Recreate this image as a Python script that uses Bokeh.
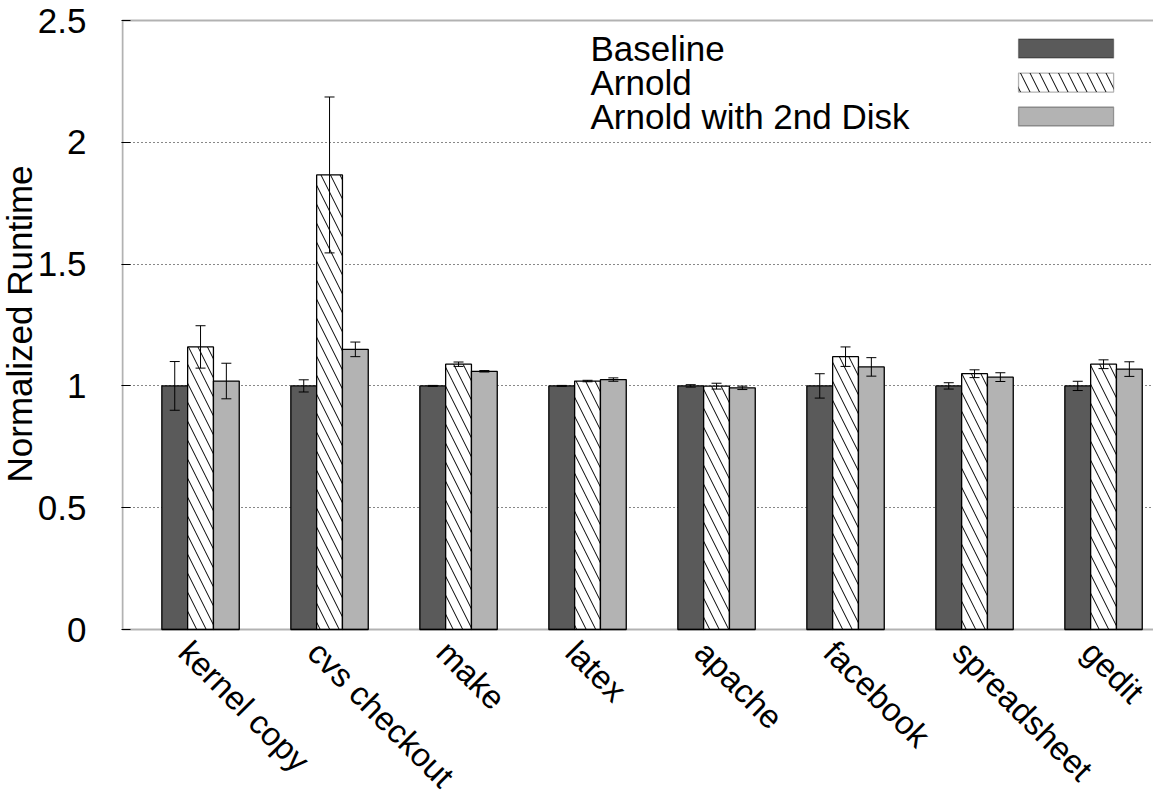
import numpy as np
from bokeh.plotting import figure
from bokeh.models import (Range1d, FixedTicker, Whisker, TeeHead, ColumnDataSource,
                          Label, BoxAnnotation, Title)
from bokeh.embed import file_html
from bokeh.resources import INLINE

# ---------------- data ----------------
categories = ["kernel copy", "cvs checkout", "make", "latex", "apache",
              "facebook", "spreadsheet", "gedit"]
series_names = ["Baseline", "Arnold", "Arnold with 2nd Disk"]
baseline = [1.0, 1.0, 1.0, 1.0, 1.0, 1.0, 1.0, 1.0]
baseline_err = [0.10, 0.025, 0.002, 0.002, 0.005, 0.05, 0.013, 0.019]
arnold = [1.16, 1.866, 1.089, 1.02, 0.999, 1.12, 1.05, 1.089]
arnold_err = [0.087, 0.32, 0.009, 0.003, 0.012, 0.04, 0.016, 0.018]
disk = [1.02, 1.15, 1.06, 1.026, 0.992, 1.078, 1.036, 1.069]
disk_err = [0.073, 0.03, 0.003, 0.007, 0.007, 0.038, 0.018, 0.03]
y_ticks = [0, 0.5, 1, 1.5, 2, 2.5]
y_tick_labels = ["0", "0.5", "1", "1.5", "2", "2.5"]
y_title = "Normalized Runtime"

FONT = "Liberation Sans"
FS = "35px"
FS_X = "33px"

W, H = 1153, 797
PX_PER_X = 129.0
PX_PER_Y = 243.6
X0 = -0.605                       # left edge of the plotting box
X1 = X0 + (W - 122) / PX_PER_X    # right edge of the canvas
Y0, Y1 = 0.0, 2.5
# the frame reaches down to the canvas bottom so the rotated category labels
# (drawn under the y=0 line) are not clipped
y_lo = Y0 - (H - 629) / PX_PER_Y
y_hi = Y1 + 2 / PX_PER_Y
x_lo = X0 - 1 / PX_PER_X

p = figure(width=W, height=H, output_backend="svg", toolbar_location=None,
           x_range=Range1d(x_lo, X1), y_range=Range1d(y_lo, y_hi),
           min_border_left=121, min_border_right=0, min_border_top=18,
           min_border_bottom=0)
p.outline_line_color = None
p.background_fill_color = "white"
p.border_fill_color = "white"

idx = np.arange(len(categories))
bar_w = 0.2
offsets = [-bar_w, 0.0, bar_w]
styles = [
    dict(fill_color="#5a5a5a"),
    dict(fill_color="white", hatch_pattern="\\", hatch_scale=19, hatch_weight=1,
         hatch_color="black"),
    dict(fill_color="#b3b3b3"),
]
vals = [baseline, arnold, disk]
errs = [baseline_err, arnold_err, disk_err]

for k in range(3):
    xs = idx + offsets[k]
    src = ColumnDataSource(dict(x=xs, top=vals[k]))
    p.vbar(x="x", top="top", width=bar_w, bottom=0, source=src,
           line_color="black", line_width=1.3, **styles[k])
for k in range(3):
    xs = idx + offsets[k]
    v = np.array(vals[k]); e = np.array(errs[k])
    esrc = ColumnDataSource(dict(x=xs, lower=v - e, upper=v + e))
    w = Whisker(base="x", lower="lower", upper="upper", source=esrc,
                line_color="black", line_width=1,
                upper_head=TeeHead(size=10, line_color="black", line_width=1),
                lower_head=TeeHead(size=10, line_color="black", line_width=1),
                level="overlay")
    p.add_layout(w)

# plotting box border (0..2.5); right side lies just past the canvas edge
p.add_layout(BoxAnnotation(left=X0, right=X1 + 0.05, bottom=Y0, top=Y1,
                           fill_alpha=0, line_color="black", line_width=2,
                           level="overlay"))

# y axis
yax = p.yaxis[0]
yax.ticker = FixedTicker(ticks=y_ticks)
yax.major_label_overrides = {t: l for t, l in zip(y_ticks, y_tick_labels)}
yax.major_tick_in = 9
yax.major_tick_out = 0
yax.minor_tick_in = 0
yax.minor_tick_out = 0
yax.major_label_standoff = 35
yax.major_label_text_font = FONT
yax.major_label_text_font_size = FS
yax.major_label_text_color = "black"
yax.axis_line_color = None
yax.major_tick_line_color = "black"
yax.major_tick_line_width = 1

# y title: starts at the bottom of the panel and is shifted up to the box centre
title_bottom_px = 482
p.add_layout(Title(text=y_title, align="left", offset=H - title_bottom_px,
                   text_font=FONT, text_font_size=FS, text_font_style="normal",
                   text_color="black", standoff=-8), "left")

# x axis: categories as rotated labels under the y=0 line
p.xaxis.visible = False
for i, c in zip(idx, categories):
    p.add_layout(Label(x=float(i), y=Y0, text=c, angle=-np.pi / 4,
                       x_offset=-16, y_offset=-17,
                       text_font=FONT, text_font_size=FS_X, text_color="black",
                       text_align="left", text_baseline="middle"))

p.xgrid.visible = False
p.ygrid.ticker = FixedTicker(ticks=[0.5, 1, 1.5, 2])
p.ygrid.grid_line_color = "#111111"
p.ygrid.grid_line_dash = "1 3"
p.ygrid.grid_line_width = 1

# legend (text on left, swatch on right, gnuplot style)
leg_text_x = 3.023
sw_left, sw_right = 6.341, 7.078
rows_y = [2.385, 2.245, 2.106]
half_h = 0.039
for k in range(3):
    p.add_layout(Label(x=leg_text_x, y=rows_y[k], text=series_names[k],
                       text_font=FONT, text_font_size=FS, text_color="black",
                       text_align="left", text_baseline="middle"))
    p.add_layout(BoxAnnotation(left=sw_left, right=sw_right,
                               bottom=rows_y[k] - half_h, top=rows_y[k] + half_h,
                               fill_alpha=1.0, line_color="black", line_width=1.3,
                               level="overlay", **styles[k]))

open("out.html", "w").write(file_html(p, INLINE))
